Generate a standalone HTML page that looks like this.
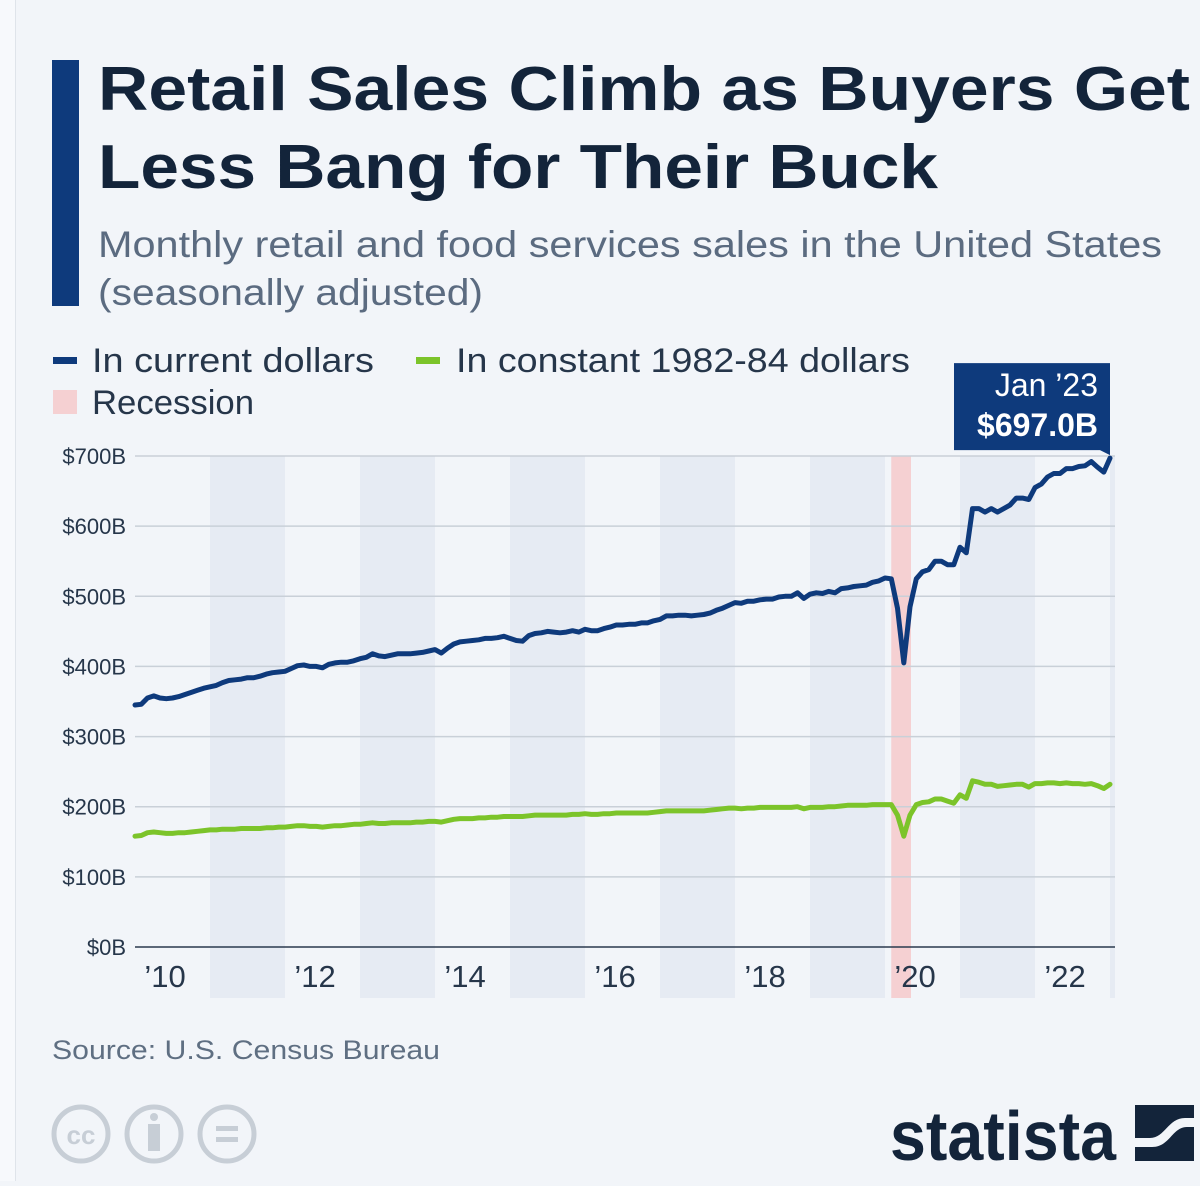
<!DOCTYPE html>
<html><head><meta charset="utf-8"><style>
html,body{margin:0;padding:0;background:#f2f5f9;}
body{width:1200px;height:1181px;overflow:hidden;position:relative;font-family:"Liberation Sans","DejaVu Sans",sans-serif;}
svg text{font-family:"Liberation Sans","DejaVu Sans",sans-serif;}
</style></head><body>
<svg id="chart" width="1200" height="1181" viewBox="0 0 1200 1181" xmlns="http://www.w3.org/2000/svg">
<rect x="0" y="0" width="15" height="1181" fill="#f7f9fc"/>
<line x1="15.5" y1="0" x2="15.5" y2="1181" stroke="#dfe4ea" stroke-width="1"/>
<rect x="52" y="60" width="27" height="246" fill="#0e3a7c"/>
<text x="98" y="110" font-size="62" font-weight="bold" fill="#13243a" textLength="1092" lengthAdjust="spacingAndGlyphs">Retail Sales Climb as Buyers Get</text>
<text x="98" y="188" font-size="62" font-weight="bold" fill="#13243a" textLength="840" lengthAdjust="spacingAndGlyphs">Less Bang for Their Buck</text>
<text x="98" y="257" font-size="37" fill="#5b6b80" textLength="1064" lengthAdjust="spacingAndGlyphs">Monthly retail and food services sales in the United States</text>
<text x="98" y="305" font-size="37" fill="#5b6b80" textLength="385" lengthAdjust="spacingAndGlyphs">(seasonally adjusted)</text>
<g>
<g><rect x="53" y="357" width="24" height="7" fill="#0e3a7c"/><text x="92" y="372" font-size="34" fill="#26364a" textLength="282" lengthAdjust="spacingAndGlyphs">In current dollars</text></g>
<g><rect x="416" y="357" width="24" height="7" fill="#7cc42a"/><text x="456" y="372" font-size="34" fill="#26364a" textLength="454" lengthAdjust="spacingAndGlyphs">In constant 1982-84 dollars</text></g>
<g><rect x="53" y="390" width="24" height="24" fill="#f5d0d2"/><text x="92" y="414" font-size="34" fill="#26364a" textLength="162" lengthAdjust="spacingAndGlyphs">Recession</text></g>
</g>
<g id="plot"></g>
<text x="52" y="1059" font-size="27" fill="#5f6f82" textLength="388" lengthAdjust="spacingAndGlyphs">Source: U.S. Census Bureau</text>
<g fill="none" stroke="#c7ced6" stroke-width="5">
<circle cx="81" cy="1134" r="27"/><circle cx="154" cy="1134" r="27"/><circle cx="227" cy="1134" r="27"/>
<text x="81" y="1144" font-size="26" font-weight="bold" fill="#c7ced6" stroke="none" text-anchor="middle">cc</text>
<circle cx="154" cy="1117" r="4" fill="#c7ced6" stroke="none"/><rect x="148" y="1124" width="12" height="27" fill="#c7ced6" stroke="none"/>
<rect x="216" y="1126" width="22" height="5" fill="#c7ced6" stroke="none"/><rect x="216" y="1137" width="22" height="5" fill="#c7ced6" stroke="none"/>
</g>
<g>
<text x="890" y="1160" font-size="70" font-weight="bold" fill="#13243a" textLength="226" lengthAdjust="spacingAndGlyphs">statista</text>
<rect x="1135" y="1105" width="59" height="56" fill="#13243a"/>
<path d="M1135 1138 L1150 1138 C1165 1138 1168 1118 1185 1118 L1194 1118 L1194 1127 L1187 1127 C1172 1127 1170 1147 1152 1147 L1135 1147 Z" fill="#f2f5f9"/>
</g>
</svg>
<script>
const yTicks=[0,100,200,300,400,500,600,700];
const xYears=[2010,2012,2014,2016,2018,2020,2022];
const xLabels=["’10","’12","’14","’16","’18","’20","’22"];
const bandYears=[2011,2013,2015,2017,2019,2021,2023];
const recessionStart=[2020,1];
const recessionEnd=[2020,4];
const currentDollars=[
345,346,355,358,355,354,355,357,360,363,366,369,
371,373,377,380,381,382,384,384,386,389,391,392,
393,397,401,402,400,400,398,403,405,406,406,408,
411,413,418,415,414,416,418,418,418,419,420,422,
424,419,426,432,435,436,437,438,440,440,441,443,
440,437,436,444,447,448,450,449,448,449,451,449,
453,451,451,454,456,459,459,460,460,462,462,465,
467,472,472,473,473,472,473,474,476,480,483,487,
491,490,493,493,495,496,496,499,500,500,505,497,
503,505,504,507,505,511,512,514,515,516,520,522,
526,525,483,405,485,525,535,538,550,550,545,545,
570,562,625,625,620,625,620,625,630,640,640,638,
655,660,670,675,675,682,682,685,686,692,684,677,
697];
const constantDollars=[
158,159,163,164,163,162,162,163,163,164,165,166,
167,167,168,168,168,169,169,169,169,170,170,171,
171,172,173,173,172,172,171,172,173,173,174,175,
175,176,177,176,176,177,177,177,177,178,178,179,
179,178,180,182,183,183,183,184,184,185,185,186,
186,186,186,187,188,188,188,188,188,188,189,189,
190,189,189,190,190,191,191,191,191,191,191,192,
193,194,194,194,194,194,194,194,195,196,197,198,
198,197,198,198,199,199,199,199,199,199,200,197,
199,199,199,200,200,201,202,202,202,202,203,203,
203,203,188,158,188,203,206,207,211,211,208,205,
217,212,237,235,232,232,229,230,231,232,232,228,
233,233,234,234,233,234,233,233,232,233,230,226,
232];
const callout={label:"Jan ’23",value:"$697.0B"};

const NS="http://www.w3.org/2000/svg";
const X0=135,X1=1113,Y0=947,Y700=456,BOTTOM=998;
const xm=m=>X0+m*75/12;
const xy=(yr,mo)=>xm((yr-2010)*12+(mo||0));
const yv=v=>Y0-(v/700)*(Y0-Y700);
const g=document.getElementById('plot');
function mk(tag,attrs,parent){const e=document.createElementNS(NS,tag);for(const k in attrs)e.setAttribute(k,attrs[k]);(parent||g).appendChild(e);return e;}

bandYears.forEach(yr=>{
  const x=xy(yr,0),w=Math.min(75,X1+2-x);
  const r=mk('rect',{x:x,y:Y700,width:w,height:BOTTOM-Y700,fill:'#e6ebf3'});
  
  
});
const rx1=xy(recessionStart[0],recessionStart[1]),rx2=xy(recessionEnd[0],recessionEnd[1])+1;
const rec=mk('rect',{x:rx1,y:Y700,width:rx2-rx1,height:BOTTOM-Y700,fill:'#f5d0d2'});



yTicks.forEach(v=>{
  const y=yv(v);
  if(v>0){const l=mk('line',{x1:X0,x2:X1+2,y1:y,y2:y,stroke:'#c9d0d8','stroke-width':1.5});
  
  }
  const t=mk('text',{x:126,y:y+8,'font-size':22,fill:'#26364a','text-anchor':'end'});
  t.textContent='$'+v+'B';
  
  
});
const ax=mk('line',{x1:X0,x2:X1+2,y1:Y0,y2:Y0,stroke:'#2a3a4e','stroke-width':1.5});


xYears.forEach((yr,i)=>{
  const t=mk('text',{x:xy(yr,0)+30,y:987,'font-size':31,fill:'#26364a','text-anchor':'middle'});
  t.textContent=xLabels[i];
  
  
});
function line(arr,color,name){
  const d=arr.map((v,i)=>(i?'L':'M')+xm(i).toFixed(1)+' '+yv(v).toFixed(1)).join(' ');
  const p=mk('path',{d:d,fill:'none',stroke:color,'stroke-width':5,'stroke-linejoin':'round','stroke-linecap':'round'});
  
  
}
line(constantDollars,'#7cc42a','series-constant-dollars');
line(currentDollars,'#0e3a7c','series-current-dollars');

const lx=xm(currentDollars.length-1),ly=yv(currentDollars[currentDollars.length-1]);
const cg=mk('g',{});


mk('path',{d:`M${lx-156} ${ly-95} L${lx} ${ly-95} L${lx} ${ly-3} L${lx-10} ${ly-8} L${lx-156} ${ly-8} Z`,fill:'#0e3a7c'},cg);
const t1=mk('text',{x:lx-12,y:ly-62,'font-size':32,fill:'#fff','text-anchor':'end'},cg);t1.textContent=callout.label;
const t2=mk('text',{x:lx-12,y:ly-22,'font-size':32,'font-weight':'bold',fill:'#fff','text-anchor':'end'},cg);t2.textContent=callout.value;
</script>
</body></html>
